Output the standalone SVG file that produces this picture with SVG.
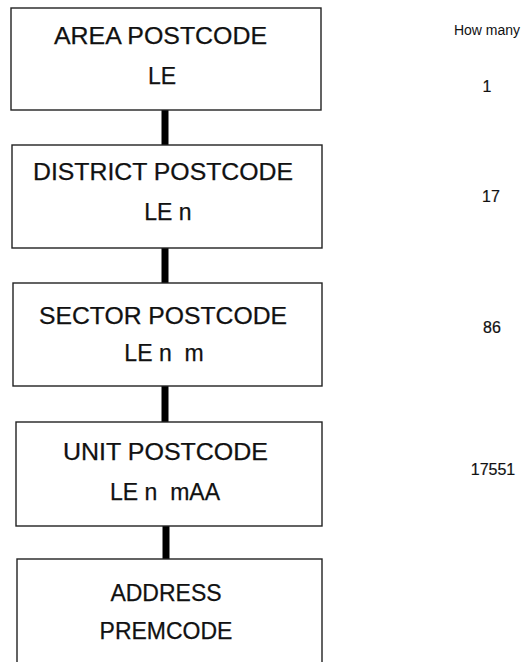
<svg xmlns="http://www.w3.org/2000/svg" width="524" height="662" viewBox="0 0 524 662">
  <style>
    .box { fill: #ffffff; stroke: #222222; stroke-width: 1.4; }
    .lbl { font-family: "Liberation Sans", Arial, sans-serif; font-size: 23px; fill: #111111; stroke: #111111; stroke-width: 0.25; text-anchor: middle; }
    .cnt { font-family: "Liberation Sans", Arial, sans-serif; font-size: 16px; fill: #111111; stroke: #111111; stroke-width: 0.2; text-anchor: middle; }
    .hdr { font-family: "Liberation Sans", Arial, sans-serif; font-size: 14px; fill: #111111; text-anchor: middle; }
    .link { stroke: #000000; stroke-width: 7; }
  </style>
  <rect width="524" height="662" fill="#ffffff"/>

  <!-- vertical bars linking the levels -->
  <g id="connectors">
    <line class="link" x1="165" y1="110" x2="165" y2="145"/>
    <line class="link" x1="165" y1="248" x2="165" y2="283"/>
    <line class="link" x1="165" y1="386" x2="165" y2="422"/>
    <line class="link" x1="166" y1="526" x2="166" y2="559"/>
  </g>

  <g id="area">
    <rect class="box" x="11" y="8" width="310" height="102"/>
    <text class="lbl" x="160.5" y="44" textLength="213" lengthAdjust="spacingAndGlyphs">AREA POSTCODE</text>
    <text class="lbl" x="162" y="84">LE</text>
  </g>

  <g id="district">
    <rect class="box" x="12" y="145" width="310" height="103"/>
    <text class="lbl" x="163" y="180" textLength="260" lengthAdjust="spacingAndGlyphs">DISTRICT POSTCODE</text>
    <text class="lbl" x="168" y="220">LE n</text>
  </g>

  <g id="sector">
    <rect class="box" x="13" y="283" width="309" height="103"/>
    <text class="lbl" x="163" y="324" textLength="248" lengthAdjust="spacingAndGlyphs">SECTOR POSTCODE</text>
    <text class="lbl" x="164" y="361" xml:space="preserve">LE n  m</text>
  </g>

  <g id="unit">
    <rect class="box" x="16" y="422" width="306" height="104"/>
    <text class="lbl" x="165.5" y="460" textLength="205" lengthAdjust="spacingAndGlyphs">UNIT POSTCODE</text>
    <text class="lbl" x="165" y="500" xml:space="preserve">LE n  mAA</text>
  </g>

  <g id="address">
    <rect class="box" x="17" y="559" width="305" height="120"/>
    <text class="lbl" x="166" y="601">ADDRESS</text>
    <text class="lbl" x="166" y="639">PREMCODE</text>
  </g>

  <g id="counts">
    <text class="hdr" x="487" y="35">How many</text>
    <text class="cnt" x="487" y="92">1</text>
    <text class="cnt" x="491" y="202">17</text>
    <text class="cnt" x="492" y="333">86</text>
    <text class="cnt" x="493" y="475">17551</text>
  </g>
</svg>
